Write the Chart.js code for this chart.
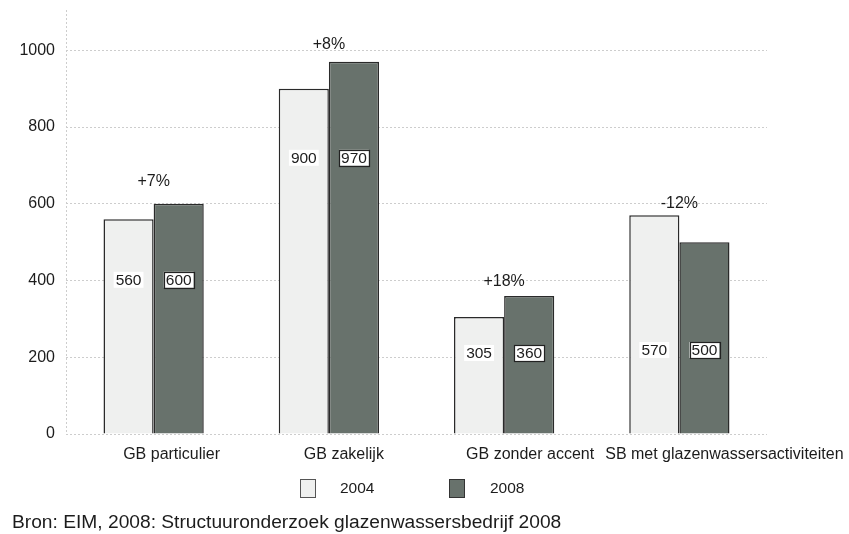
<!DOCTYPE html>
<html>
<head>
<meta charset="utf-8">
<script src="https://cdn.jsdelivr.net/npm/chart.js@4"></script>
<style>
  html, body { margin: 0; padding: 0; background: #ffffff; }
  #wrap { width: 849px; height: 534px; position: relative; }
</style>
</head>
<body>
<div id="wrap"><canvas id="c" width="849" height="534"></canvas></div>
<script>
// Aantal bedrijven per type, 2004 en 2008
const categories = ['GB particulier', 'GB zakelijk', 'GB zonder accent', 'SB met glazenwassersactiviteiten'];
const series2004 = [560, 900, 305, 570];
const series2008 = [600, 970, 360, 500];
const seriesNames = ['2004', '2008'];
const yTicks = [0, 200, 400, 600, 800, 1000];
const sourceNote = 'Bron: EIM, 2008: Structuuronderzoek glazenwassersbedrijf 2008';

// Layout helpers (not data)
const FONT = '"Liberation Sans", Arial, Helvetica, sans-serif';
const INK = '#1c1c1c';
const valueBoxLevel = [402, 720, 211, 219];   // axis value where the value boxes sit per group
const changeGap = [22, 17, 14, 12];           // px between taller bar and change label
const categoryShift = [18, 15, 26, 45];       // px offset of category labels

const fill2004 = '#eff0ef';
const fill2008 = '#68726c';
const edge = '#2a2a2a';

function pctChange(a, b) {
  const p = Math.round((b - a) / a * 100);
  return (p > 0 ? '+' : '') + p + '%';
}

const annotate = {
  id: 'annotate',
  beforeDatasetsDraw(chart) {
    const { ctx, chartArea } = chart;
    ctx.save();
    ctx.strokeStyle = '#cdcdcd';
    ctx.lineWidth = 1;
    ctx.setLineDash([2, 2]);
    ctx.beginPath();
    ctx.moveTo(chartArea.left + 0.5, 10);
    ctx.lineTo(chartArea.left + 0.5, chartArea.bottom);
    ctx.stroke();
    ctx.restore();
  },
  afterDatasetsDraw(chart) {
    const { ctx } = chart;
    const xs = chart.scales.x;
    const ys = chart.scales.y;
    const m0 = chart.getDatasetMeta(0);
    const m1 = chart.getDatasetMeta(1);
    ctx.save();
    ctx.textAlign = 'center';
    ctx.textBaseline = 'middle';

    // value boxes inside the bars
    ctx.font = '15.5px ' + FONT;
    chart.data.datasets.forEach((ds, i) => {
      const meta = chart.getDatasetMeta(i);
      ds.data.forEach((v, j) => {
        const bar = meta.data[j];
        const y = ys.getPixelForValue(valueBoxLevel[j]);
        const t = String(v);
        const w = ctx.measureText(t).width + 4;
        const h = 16;
        ctx.fillStyle = '#ffffff';
        ctx.fillRect(bar.x - w / 2, y - h / 2, w, h);
        if (i === 1) {
          ctx.strokeStyle = '#222';
          ctx.lineWidth = 1.2;
          ctx.strokeRect(Math.round(bar.x - w / 2) + 0.5, Math.round(y - h / 2) + 0.5, Math.round(w), h);
        }
        ctx.fillStyle = INK;
        ctx.fillText(t, bar.x, y + 1);
      });
    });

    // change labels above each group
    ctx.font = '16px ' + FONT;
    categories.forEach((c, j) => {
      const a = m0.data[j], b = m1.data[j];
      const x = (a.x + b.x) / 2;
      const top = Math.min(a.y, b.y);
      ctx.fillStyle = INK;
      ctx.fillText(pctChange(series2004[j], series2008[j]), x, top - changeGap[j]);
    });

    // category labels
    ctx.font = '16px ' + FONT;
    categories.forEach((c, j) => {
      ctx.fillText(c, xs.getPixelForValue(j) + categoryShift[j], 455);
    });
    ctx.restore();
  },
  afterDraw(chart) {
    const { ctx } = chart;
    ctx.save();
    // legend
    const boxX = [300, 449];
    const textX = [340, 490];
    chart.data.datasets.forEach((ds, i) => {
      ctx.fillStyle = ds.backgroundColor;
      ctx.fillRect(boxX[i], 479, 15, 18);
      ctx.strokeStyle = i === 0 ? '#555' : '#333';
      ctx.lineWidth = 1;
      ctx.strokeRect(boxX[i] + 0.5, 479.5, 15, 18);
      ctx.fillStyle = INK;
      ctx.font = '15.5px ' + FONT;
      ctx.textAlign = 'left';
      ctx.textBaseline = 'middle';
      ctx.fillText(ds.label, textX[i], 489);
    });
    // source line
    ctx.font = '19.2px ' + FONT;
    ctx.textAlign = 'left';
    ctx.textBaseline = 'alphabetic';
    ctx.fillStyle = INK;
    ctx.fillText(sourceNote, 12, 528);
    ctx.restore();
  }
};

new Chart(document.getElementById('c'), {
  type: 'bar',
  data: {
    labels: categories,
    datasets: [
      { label: seriesNames[0], data: series2004, backgroundColor: fill2004, borderColor: edge, borderWidth: 1.5 },
      { label: seriesNames[1], data: series2008, backgroundColor: fill2008, borderColor: edge, borderWidth: 1.5 }
    ]
  },
  options: {
    responsive: false,
    animation: false,
    devicePixelRatio: 1,
    layout: { padding: { left: 0, right: 82, top: 12, bottom: 0 } },
    datasets: { bar: { categoryPercentage: 0.572, barPercentage: 1.0 } },
    plugins: { legend: { display: false }, tooltip: { enabled: false }, title: { display: false } },
    scales: {
      x: {
        grid: { display: false },
        border: { display: false },
        ticks: { display: false },
        afterFit(s) { s.height = 100; s.paddingLeft = 0; s.paddingRight = 0; }
      },
      y: {
        min: 0,
        max: 1100,
        afterBuildTicks(s) { s.ticks = yTicks.map(v => ({ value: v })); },
        afterFit(s) { s.width = 66; s.paddingTop = 0; s.paddingBottom = 0; },
        grid: { color: '#cdcdcd', lineWidth: 1, drawTicks: false },
        border: { display: false, dash: [2, 2] },
        ticks: {
          padding: 11,
          color: INK,
          font: { family: FONT, size: 16 },
          callback: v => String(v)
        }
      }
    }
  },
  plugins: [annotate]
});
</script>
</body>
</html>
